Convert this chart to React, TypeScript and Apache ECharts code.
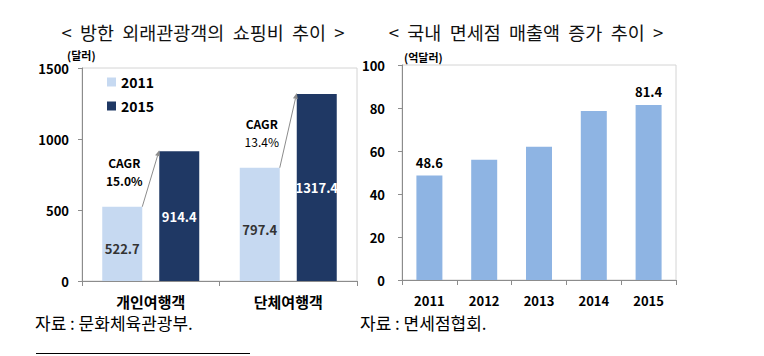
import React, { useEffect, useRef } from "react";
import * as echarts from "echarts";

// Left chart: 방한 외래관광객의 쇼핑비 추이
const leftCategories = ["개인여행객", "단체여행객"];
const spend2011 = [522.7, 797.4];
const spend2015 = [914.4, 1317.4];
const cagrRates = ["15.0%", "13.4%"];
const cagrBold = [true, false];
const leftTicks = { min: 0, max: 1500, interval: 500 };

// Right chart: 국내 면세점 매출액 증가 추이
const years = ["2011", "2012", "2013", "2014", "2015"];
const dutyFreeSales = [48.6, 55.9, 62.0, 78.6, 81.4];
const shownLabels = [true, false, false, false, true];
const rightTicks = { min: 0, max: 100, interval: 20 };

const FONT = "'Noto Sans CJK KR', 'Noto Sans', sans-serif";
const AXIS_COLOR = "#8c8c8c";
const FRAME_COLOR = "#d4d4d4";
const C2011 = "#c6d9f1";
const C2015 = "#1f3864";
const CRIGHT = "#8eb4e3";
const BAR_W = 40;
const BAR_GAP = 17;

export default function App() {
  const ref = useRef<HTMLDivElement>(null);

  useEffect(() => {
    if (!ref.current) return;
    const chart = echarts.init(ref.current, null, { renderer: "svg" });

    const axisLabelStyle = {
      fontFamily: FONT,
      fontWeight: "bold" as const,
      fontSize: 13,
      color: "#000",
    };

    const titleStyle = { fontFamily: FONT, fontSize: 18.5, fontWeight: "normal", color: "#111" };

    const option: any = {
      animation: false,
      backgroundColor: "#fff",
      textStyle: { fontFamily: FONT },
      title: [
        {
          text: "<  방한  외래관광객의  쇼핑비  추이  >",
          left: 198,
          top: 18,
          textAlign: "center",
          textStyle: titleStyle,
        },
        {
          text: "<  국내  면세점  매출액  증가  추이  >",
          left: 521,
          top: 18,
          textAlign: "center",
          textStyle: titleStyle,
        },
      ],
      legend: {
        data: ["2011", "2015"],
        orient: "vertical",
        left: 102,
        top: 70,
        itemWidth: 9,
        itemHeight: 9,
        itemGap: 10,
        icon: "rect",
        textStyle: { fontFamily: FONT, fontWeight: "bold", fontSize: 14, color: "#000" },
      },
      grid: [
        {
          left: 82,
          top: 68,
          width: 275,
          height: 213,
          show: true,
          borderColor: FRAME_COLOR,
          borderWidth: 1,
        },
        {
          left: 402,
          top: 65,
          width: 274,
          height: 215,
          show: true,
          borderColor: FRAME_COLOR,
          borderWidth: 1,
        },
      ],
      xAxis: [
        {
          type: "category",
          gridIndex: 0,
          data: leftCategories,
          axisLine: { lineStyle: { color: AXIS_COLOR } },
          axisTick: { show: true, length: 5, lineStyle: { color: AXIS_COLOR } },
          axisLabel: { ...axisLabelStyle, fontSize: 15, margin: 13 },
        },
        {
          type: "category",
          gridIndex: 1,
          data: years,
          axisLine: { lineStyle: { color: AXIS_COLOR } },
          axisTick: { show: true, length: 5, lineStyle: { color: AXIS_COLOR } },
          axisLabel: { ...axisLabelStyle, margin: 14 },
        },
      ],
      yAxis: [
        {
          type: "value",
          gridIndex: 0,
          min: leftTicks.min,
          max: leftTicks.max,
          interval: leftTicks.interval,
          axisLine: { show: true, lineStyle: { color: AXIS_COLOR } },
          axisTick: { show: true, length: 4, lineStyle: { color: AXIS_COLOR } },
          splitLine: { show: false },
          axisLabel: { ...axisLabelStyle, margin: 13, formatter: (v: number) => String(v) },
        },
        {
          type: "value",
          gridIndex: 1,
          min: rightTicks.min,
          max: rightTicks.max,
          interval: rightTicks.interval,
          axisLine: { show: true, lineStyle: { color: AXIS_COLOR } },
          axisTick: { show: true, length: 4, lineStyle: { color: AXIS_COLOR } },
          splitLine: { show: false },
          axisLabel: { ...axisLabelStyle, margin: 17, formatter: (v: number) => String(v) },
        },
      ],
      series: [
        {
          name: "2011",
          type: "bar",
          xAxisIndex: 0,
          yAxisIndex: 0,
          data: spend2011,
          barWidth: BAR_W,
          barGap: (BAR_GAP / BAR_W) * 100 + "%",
          itemStyle: { color: C2011 },
          label: {
            show: true,
            position: "inside",
            offset: [0, 5],
            fontFamily: FONT,
            fontWeight: "bold",
            fontSize: 13,
            color: "#333",
          },
        },
        {
          name: "2015",
          type: "bar",
          xAxisIndex: 0,
          yAxisIndex: 0,
          data: spend2015,
          barWidth: BAR_W,
          itemStyle: { color: C2015 },
          label: {
            show: true,
            position: "inside",
            fontFamily: FONT,
            fontWeight: "bold",
            fontSize: 13,
            color: "#fff",
          },
        },
        {
          name: "cagr",
          type: "custom",
          xAxisIndex: 0,
          yAxisIndex: 0,
          silent: true,
          z: 10,
          data: spend2011.map((v, i) => [i, v, spend2015[i]]),
          renderItem: (params: any, api: any) => {
            const i = api.value(0);
            const p1 = api.coord([i, api.value(1)]);
            const p2 = api.coord([i, api.value(2)]);
            const total = BAR_W * 2 + BAR_GAP;
            const cx = p1[0];
            const x1 = cx - total / 2 + BAR_W;
            const x2 = cx + total / 2 - BAR_W;
            const y1 = p1[1];
            const y2 = p2[1] - 1;
            const dx = x2 - x1;
            const dy = y2 - y1;
            const len = Math.sqrt(dx * dx + dy * dy);
            const ux = dx / len;
            const uy = dy / len;
            const hl = 6;
            const hw = 2.5;
            const bx = x2 - ux * hl;
            const by = y2 - uy * hl;
            const textX = cx - total / 2 + BAR_W / 2 + 2;
            const rate = cagrRates[params.dataIndex];
            return {
              type: "group",
              children: [
                {
                  type: "line",
                  shape: { x1, y1, x2: bx, y2: by },
                  style: { stroke: "#8c8c8c", lineWidth: 1 },
                },
                {
                  type: "polygon",
                  shape: {
                    points: [
                      [x2, y2],
                      [bx - uy * hw, by + ux * hw],
                      [bx + uy * hw, by - ux * hw],
                    ],
                  },
                  style: { fill: "#8c8c8c" },
                },
                {
                  type: "text",
                  x: textX,
                  y: y1 - 44,
                  style: {
                    text: "CAGR",
                    fontFamily: FONT,
                    fontWeight: "bold",
                    fontSize: 12,
                    fill: "#000",
                    align: "center",
                    verticalAlign: "middle",
                  },
                },
                {
                  type: "text",
                  x: textX,
                  y: y1 - 26,
                  style: {
                    text: rate,
                    fontFamily: FONT,
                    fontWeight: cagrBold[params.dataIndex] ? "bold" : "normal",
                    fontSize: 12,
                    fill: "#000",
                    align: "center",
                    verticalAlign: "middle",
                  },
                },
              ],
            };
          },
        },
        {
          name: "sales",
          type: "bar",
          xAxisIndex: 1,
          yAxisIndex: 1,
          data: dutyFreeSales.map((v, i) => ({
            value: v,
            label: { show: shownLabels[i] },
          })),
          barWidth: 26,
          itemStyle: { color: CRIGHT },
          label: {
            show: false,
            position: "top",
            distance: 7,
            fontFamily: FONT,
            fontWeight: "bold",
            fontSize: 13,
            color: "#000",
          },
        },
      ],
      graphic: [
        {
          type: "text",
          left: 67,
          top: 49,
          style: { text: "(달러)", fontFamily: FONT, fontWeight: "bold", fontSize: 11, fill: "#000" },
        },
        {
          type: "text",
          left: 404,
          top: 51,
          style: { text: "(억달러)", fontFamily: FONT, fontWeight: "bold", fontSize: 11, fill: "#000" },
        },
        {
          type: "text",
          left: 35,
          top: 314,
          style: { text: "자료 : 문화체육관광부.", fontFamily: FONT, fontSize: 17, fill: "#000" },
        },
        {
          type: "text",
          left: 360,
          top: 314,
          style: { text: "자료 : 면세점협회.", fontFamily: FONT, fontSize: 17, fill: "#000" },
        },
        {
          type: "line",
          shape: { x1: 36, y1: 353.5, x2: 250, y2: 353.5 },
          style: { stroke: "#000", lineWidth: 1 },
        },
      ],
    };

    chart.setOption(option);
    return () => chart.dispose();
  }, []);

  return (
    <div
      ref={ref}
      style={{ position: "fixed", left: 0, top: 0, width: 764, height: 356, background: "#fff" }}
    />
  );
}
